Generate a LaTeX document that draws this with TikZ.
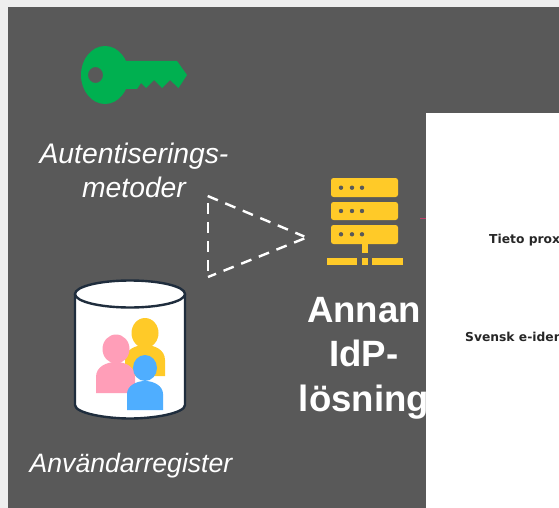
\documentclass[tikz,border=0pt]{standalone}
\usepackage{fontspec}
\setmainfont{Liberation Sans}
\newfontfamily\smallbold{DejaVu Sans}
\definecolor{pagegray}{HTML}{EEEEEE}
\definecolor{panel}{HTML}{595959}
\definecolor{keygreen}{HTML}{00B050}
\definecolor{gold}{HTML}{FFCA28}
\definecolor{rose}{HTML}{FF9EB8}
\definecolor{sky}{HTML}{4FAEFF}
\definecolor{navy}{HTML}{1F2D3D}
\definecolor{stub}{HTML}{C0406A}
\tikzset{
  italiclabel/.style={text=white,font=\fontsize{28.3}{34.5}\selectfont\itshape,align=center,inner sep=0pt},
  userlabel/.style={text=white,font=\fontsize{26.6}{32}\selectfont\itshape,align=center,inner sep=0pt},
  boldlabel/.style={text=white,font=\fontsize{36.6}{44.5}\selectfont\bfseries,align=center,inner sep=0pt},
  doclabel/.style={text=black!85,font=\smallbold\fontsize{12.3}{14}\selectfont\bfseries,anchor=base west,inner sep=0pt},
  rack/.style={fill=gold,rounded corners=2.5pt},
  rackdot/.style={fill=panel},
  barpart/.style={fill=gold},
  dashside/.style={white,line width=2.4pt,dash pattern=on 11pt off 8pt}
}
\begin{document}
\begin{tikzpicture}[x=1pt,y=-1pt]
\useasboundingbox (0,0) rectangle (559,508);
\clip (0,0) rectangle (559,508);
\fill[pagegray] (0,0) rectangle (559,508);
\fill[panel] (8,7) rectangle (559,508);
% key
\fill[keygreen,even odd rule] (105,75) ellipse [x radius=24,y radius=29]
  (95.5,75) ellipse [x radius=7.5,y radius=8];
\fill[keygreen] (122,61) -- (177,61) -- (187,75) -- (178.5,88) -- (170,80) -- (162,88) -- (154,80)
  -- (146,88) -- (141,83) -- (137,89) -- (122,89) -- cycle;
\node[italiclabel] (auth) at (134,170.5) {Autentiserings-\\metoder};
% dashed triangle
\draw[dashside] (207.7,196) -- (304.3,236.5);
\draw[dashside] (304.3,238.5) -- (208,277);
\draw[dashside] (207.7,203) -- (207.7,271);
% server
\fill[rack] (331,178) rectangle (398,197);
\fill[rack] (331,202) rectangle (398,220);
\fill[rack] (331,225) rectangle (398,244);
\foreach \yy in {187.7,211,234.3}{
  \foreach \xx in {341,352,362}{
    \fill[rackdot] (\xx,\yy) circle (2.2);
  }
}
\fill[barpart] (362,244) rectangle (368,253);
\fill[barpart] (327,258) rectangle (357,265);
\fill[barpart] (362,258) rectangle (368,265);
\fill[barpart] (372,258) rectangle (403,265);
\node[boldlabel] (idp) at (364,358) {Annan\\IdP-\\lösning};
% database cylinder
\draw[navy,line width=2.4pt,fill=white] (75,294) -- (75,405)
  .. controls (75,413) and (105,418.5) .. (130,418.5)
  .. controls (155,418.5) and (185,413) .. (185,405) -- (185,294);
\draw[navy,line width=2.4pt,fill=white] (130,294) ellipse [x radius=55,y radius=13.5];
% people
\fill[gold] (125,376) -- (125,360) .. controls (125,350) and (135,345) .. (145,345)
  .. controls (155,345) and (165,350) .. (165,360) -- (165,376) -- cycle;
\fill[gold] (145,333) ellipse [x radius=13.5,y radius=15];
\fill[rose] (96,393) -- (96,377) .. controls (96,367) and (106,362) .. (116,362)
  .. controls (126,362) and (135,367) .. (135,377) -- (135,393) -- cycle;
\fill[rose] (116,349) ellipse [x radius=13.5,y radius=14.5];
\fill[sky] (127,410) -- (127,394) .. controls (127,386) and (136,381) .. (145,381)
  .. controls (154,381) and (163,386) .. (163,394) -- (163,410) -- cycle;
\fill[sky] (145,368) ellipse [x radius=12,y radius=13];
\node[userlabel] (users) at (131,466) {Användarregister};
% pink stub and white overlay
\draw[stub,line width=1pt] (420,218.7) -- (426,218.7);
\fill[white] (426,113) rectangle (559,508);
\node[doclabel] (tieto) at (489,243) {Tieto prox};
\node[doclabel] (svensk) at (465,341) {Svensk e-iden};
\end{tikzpicture}
\end{document}
